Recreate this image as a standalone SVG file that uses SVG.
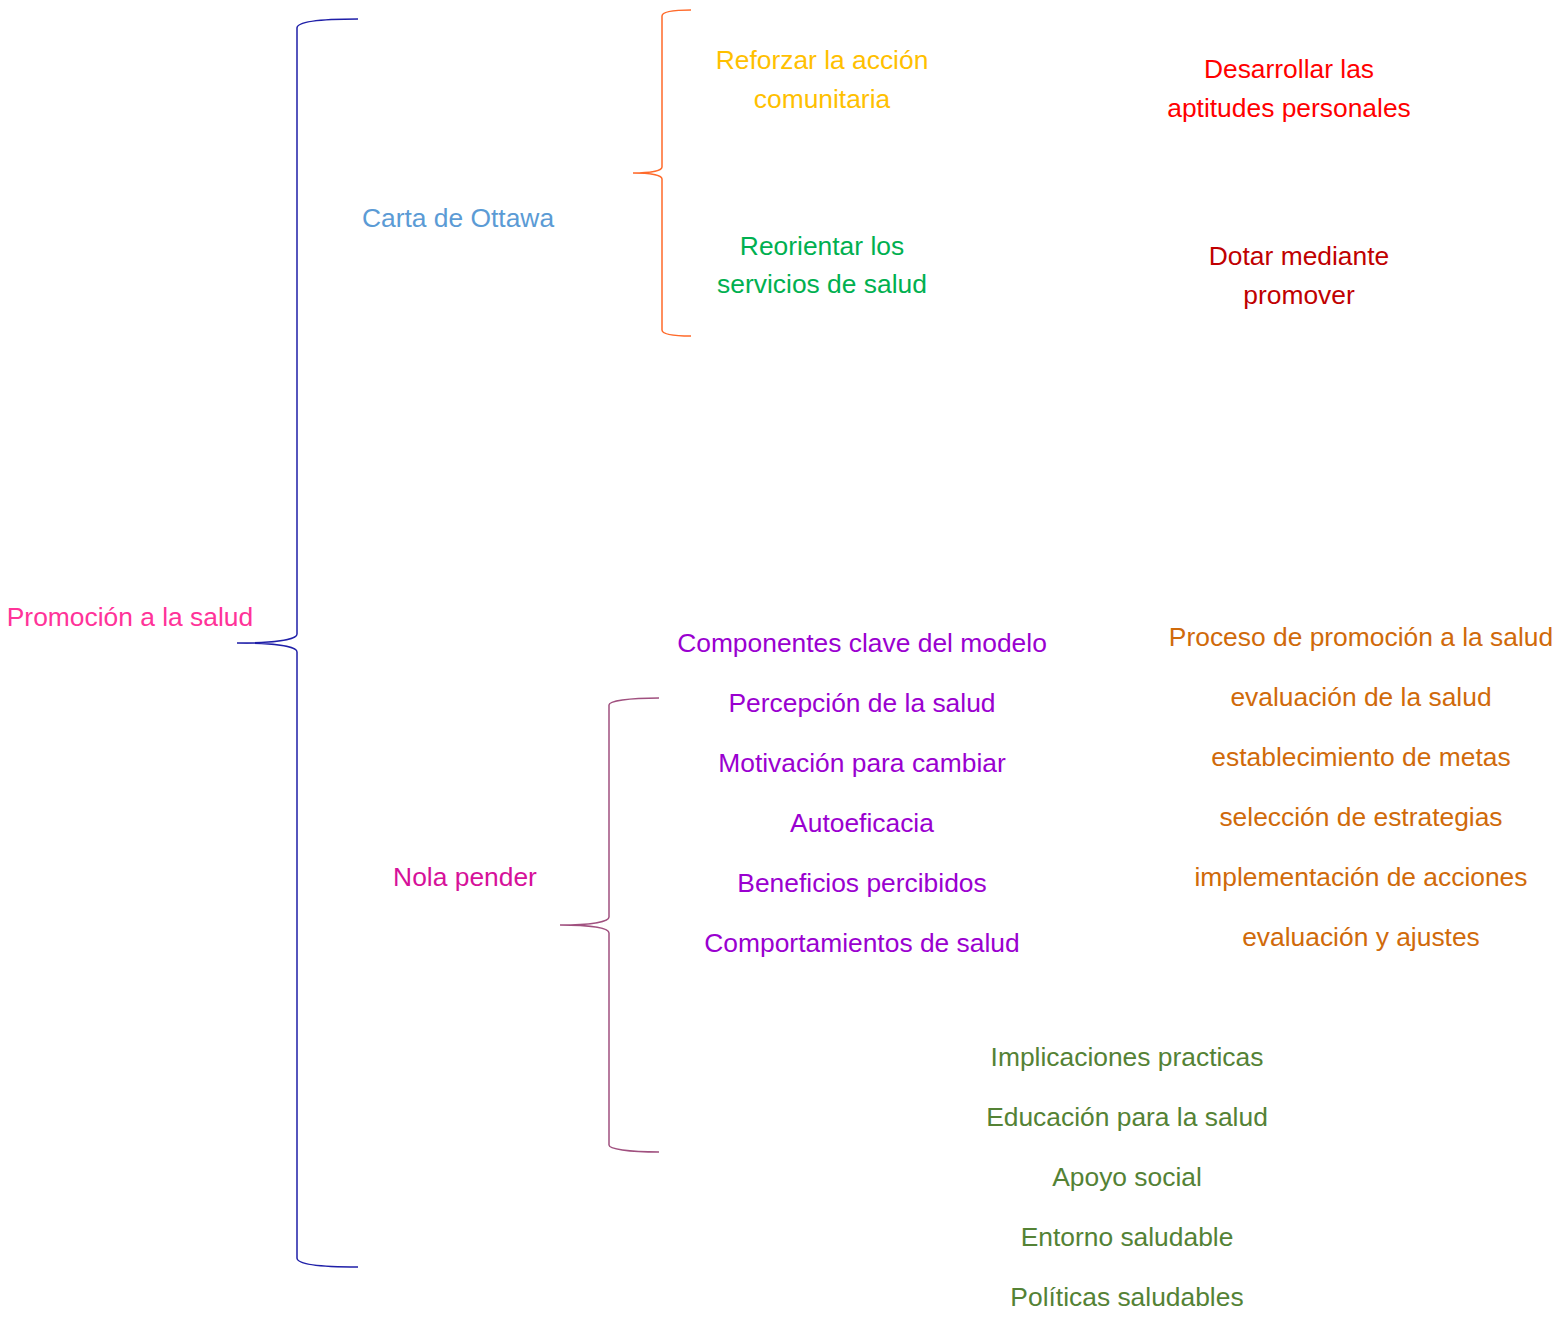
<svg xmlns="http://www.w3.org/2000/svg" width="1567" height="1320" viewBox="0 0 1567 1320">
<style>
text{font-family:"Liberation Sans","Open Sans",Arial,sans-serif;font-size:26.4px;text-anchor:middle}
.brace{fill:none;stroke-width:1.5}
</style>
<rect width="1567" height="1320" fill="#fff"/>
<g id="connectors">
<path class="brace" stroke="#1F1FA8" d="M358,19 C318,19 297,22 297,28 L297,634 C297,640 272,643 237,643 C272,643 297,646 297,652 L297,1258 C297,1264 318,1267 358,1267"/>
<path class="brace" stroke="#FF6A2A" d="M691,10 C672,10 662,12 662,16 L662,167 C662,171 650,173 633,173 C650,173 662,175 662,179 L662,330 C662,334 672,336 691,336"/>
<path class="brace" stroke="#A0507F" d="M659,698 C628,698 609,701 609,705 L609,917 C609,922 590,925 560,925 C590,925 609,928 609,933 L609,1145 C609,1149 628,1152 659,1152"/>
</g>
<g id="root"><text x="130" y="626" fill="#FF3399">Promoción a la salud</text></g>
<g id="ottawa"><text x="458" y="227" fill="#5B9BD5">Carta de Ottawa</text></g>
<g id="reforzar"><text x="822" y="69" fill="#FFC000">Reforzar la acción</text><text x="822" y="108" fill="#FFC000">comunitaria</text></g>
<g id="reorientar"><text x="822" y="255" fill="#00B050">Reorientar los</text><text x="822" y="293" fill="#00B050">servicios de salud</text></g>
<g id="desarrollar"><text x="1289" y="78" fill="#FF0000">Desarrollar las</text><text x="1289" y="117" fill="#FF0000">aptitudes personales</text></g>
<g id="dotar"><text x="1299" y="265" fill="#C00000">Dotar mediante</text><text x="1299" y="304" fill="#C00000">promover</text></g>
<g id="nola"><text x="465" y="886" fill="#D6119A">Nola pender</text></g>
<g id="componentes" fill="#9A00D0">
<text x="862" y="652">Componentes clave del modelo</text>
<text x="862" y="712">Percepción de la salud</text>
<text x="862" y="772">Motivación para cambiar</text>
<text x="862" y="832">Autoeficacia</text>
<text x="862" y="892">Beneficios percibidos</text>
<text x="862" y="952">Comportamientos de salud</text>
</g>
<g id="proceso" fill="#D06A0A">
<text x="1361" y="646">Proceso de promoción a la salud</text>
<text x="1361" y="706">evaluación de la salud</text>
<text x="1361" y="766">establecimiento de metas</text>
<text x="1361" y="826">selección de estrategias</text>
<text x="1361" y="886">implementación de acciones</text>
<text x="1361" y="946">evaluación y ajustes</text>
</g>
<g id="implicaciones" fill="#548235">
<text x="1127" y="1066">Implicaciones practicas</text>
<text x="1127" y="1126">Educación para la salud</text>
<text x="1127" y="1186">Apoyo social</text>
<text x="1127" y="1246">Entorno saludable</text>
<text x="1127" y="1306">Políticas saludables</text>
</g>
</svg>
